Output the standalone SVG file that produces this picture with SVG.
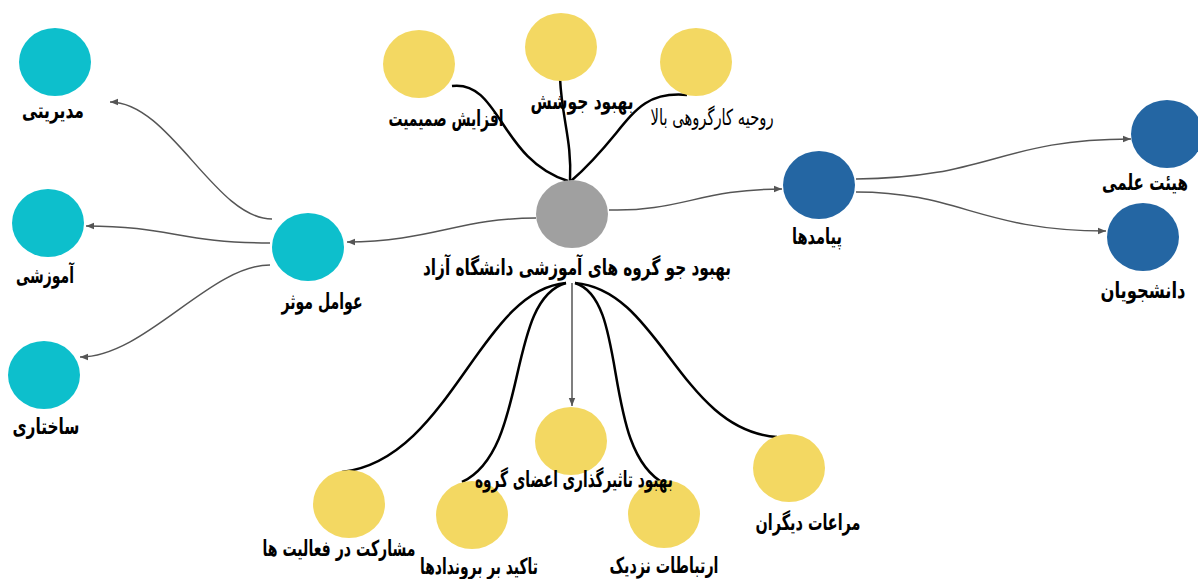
<svg xmlns="http://www.w3.org/2000/svg" width="1198" height="579" viewBox="0 0 1198 579">
<defs>
<marker id="arr" viewBox="0 0 10 10" refX="10" refY="5" markerWidth="8" markerHeight="8" markerUnits="userSpaceOnUse" orient="auto">
<path d="M0,1 L10,5 L0,9 Z" fill="#555"/>
</marker>
</defs>
<style>
.teal{fill:#0dbfcc}
.blue{fill:#2466a3}
.yellow{fill:#f3d862}
.gray{fill:#a0a0a0}
.arrow{fill:none;stroke:#555;stroke-width:1.5;marker-end:url(#arr)}
.link{fill:none;stroke:#000;stroke-width:2.5}
text{font-family:"DejaVu Sans","Noto Sans",sans-serif;text-anchor:middle;fill:#000;font-weight:bold;font-size:22px}
.n{font-weight:normal}
</style>
<rect width="1198" height="579" fill="#fff"/>
<g id="connectors">
<path class="arrow" d="M536,218 C460,218 430,242 347,242"/>
<path class="arrow" d="M609,210 C680,212 700,189 782,189"/>
<path class="arrow" d="M856,179 C990,178 1000,139 1131,139"/>
<path class="arrow" d="M856,192 C960,192 980,231 1106,231"/>
<path class="arrow" d="M272,219 C215,219 170,102 110,102"/>
<path class="arrow" d="M270,243 C180,243 170,226 86,226"/>
<path class="arrow" d="M270,265 C210,265 145,357 80,357"/>
<path class="arrow" d="M572,283 L572,406"/>
<path class="link" d="M452,86 C500,80 500,160 568,181"/>
<path class="link" d="M560,78 C562,120 572,140 570,181"/>
<path class="link" d="M687,95 C630,90 630,130 571,181"/>
<path class="link" d="M566,283 C480,290 450,460 342,472"/>
<path class="link" d="M566,283 C505,300 530,450 462,482"/>
<path class="link" d="M575,283 C630,300 600,450 665,484"/>
<path class="link" d="M575,283 C660,290 680,430 777,437"/>
</g>
<g id="node-center">
<ellipse class="gray" cx="572" cy="214" rx="36" ry="34"/>
<text x="577" y="275" font-size="25" textLength="308" lengthAdjust="spacingAndGlyphs">بهبود جو گروه های آموزشی دانشگاه آزاد</text>
</g>
<g id="node-factors">
<ellipse class="teal" cx="308" cy="247" rx="36" ry="34"/>
<text x="322" y="309" font-size="24" textLength="81" lengthAdjust="spacingAndGlyphs">عوامل موثر</text>
</g>
<g id="node-management">
<ellipse class="teal" cx="55" cy="62" rx="36" ry="34"/>
<text x="53" y="118" font-size="24" textLength="62" lengthAdjust="spacingAndGlyphs">مدیریتی</text>
</g>
<g id="node-education">
<ellipse class="teal" cx="48" cy="223" rx="36" ry="34"/>
<text x="45" y="283" font-size="24" textLength="58" lengthAdjust="spacingAndGlyphs">آموزشی</text>
</g>
<g id="node-structure">
<ellipse class="teal" cx="44" cy="375" rx="36" ry="34"/>
<text x="46" y="434" font-size="24" textLength="67" lengthAdjust="spacingAndGlyphs">ساختاری</text>
</g>
<g id="node-outcomes">
<ellipse class="blue" cx="819" cy="185" rx="36" ry="34"/>
<text x="817" y="244" font-size="24" textLength="50" lengthAdjust="spacingAndGlyphs">پیامدها</text>
</g>
<g id="node-faculty">
<ellipse class="blue" cx="1167" cy="134" rx="36" ry="34"/>
<text x="1145" y="190" font-size="24" textLength="86" lengthAdjust="spacingAndGlyphs">هیئت علمی</text>
</g>
<g id="node-students">
<ellipse class="blue" cx="1143" cy="237" rx="36" ry="34"/>
<text x="1143" y="298" font-size="24" textLength="85" lengthAdjust="spacingAndGlyphs">دانشجویان</text>
</g>
<g id="node-intimacy">
<ellipse class="yellow" cx="419" cy="64" rx="36" ry="34"/>
<text x="446" y="126" textLength="115" lengthAdjust="spacingAndGlyphs">افزایش صمیمیت</text>
</g>
<g id="node-cohesion">
<ellipse class="yellow" cx="561" cy="47" rx="36" ry="34"/>
<text x="582" y="109" textLength="103" lengthAdjust="spacingAndGlyphs">بهبود جوشش</text>
</g>
<g id="node-teamspirit">
<ellipse class="yellow" cx="696" cy="62" rx="36" ry="34"/>
<text class="n" x="712" y="125" font-size="20" textLength="123" lengthAdjust="spacingAndGlyphs">روحیه کارگروهی بالا</text>
</g>
<g id="node-participation">
<ellipse class="yellow" cx="349" cy="504" rx="36" ry="34"/>
<text x="339" y="556" textLength="153" lengthAdjust="spacingAndGlyphs">مشارکت در فعالیت ها</text>
</g>
<g id="node-outputs">
<ellipse class="yellow" cx="472" cy="515" rx="36" ry="34"/>
<text x="479" y="574" textLength="118" lengthAdjust="spacingAndGlyphs">تاکید بر بروندادها</text>
</g>
<g id="node-relations">
<ellipse class="yellow" cx="664" cy="514" rx="36" ry="34"/>
<text x="664" y="573" textLength="109" lengthAdjust="spacingAndGlyphs">ارتباطات نزدیک</text>
</g>
<g id="node-respect">
<ellipse class="yellow" cx="789" cy="468" rx="36" ry="34"/>
<text x="808" y="530" textLength="105" lengthAdjust="spacingAndGlyphs">مراعات دیگران</text>
</g>
<g id="node-influence">
<ellipse class="yellow" cx="571" cy="441" rx="36" ry="34"/>
<text x="574" y="487" textLength="198" lengthAdjust="spacingAndGlyphs">بهبود تاثیرگذاری اعضای گروه</text>
</g>
</svg>
